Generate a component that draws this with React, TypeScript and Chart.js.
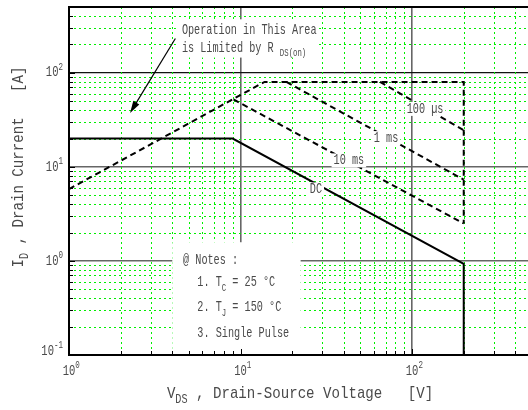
import React, { useEffect, useRef } from "react";
import { Chart, registerables } from "chart.js";

Chart.register(...registerables);

// ---- data (V in volts, I in amperes) ----
const dcV = [1, 9, 200, 200];
const dcI = [20, 20, 0.93, 0.1];
const rdsV = [1, 13.8, 200, 200];
const rdsI = [5.8, 80, 80, 2.5];
const us100V = [65, 200];
const us100I = [80, 24.5];
const ms1V = [18.5, 200];
const ms1I = [80, 7.3];
const ms10V = [9.1, 200];
const ms10I = [52, 2.5];

const xTickValues = [1, 2, 3, 4, 5, 6, 7, 8, 9, 10, 20, 30, 40, 50, 60, 70, 80, 90, 100, 200, 300, 400, 500];
const yTickValues = [0.1, 0.2, 0.3, 0.4, 0.5, 0.6, 0.7, 0.8, 0.9, 1, 2, 3, 4, 5, 6, 7, 8, 9, 10, 20, 30, 40, 50, 60, 70, 80, 90, 100, 200, 300, 400, 500];
const xMajorTicks = [1, 10, 100];
const yMajorTicks = [0.1, 1, 10, 100];

const seriesLabels = ["DC", "10 ms", "1 ms", "100 µs"];

const toPts = (xs: number[], ys: number[]) => xs.map((x, i) => ({ x, y: ys[i] }));

const isMajor = (v: number) => {
  const l = Math.log10(v);
  return Math.abs(l - Math.round(l)) < 1e-9;
};

const FONT = '"Liberation Mono", "DejaVu Sans Mono", monospace';
const TEXT = "#4a4a4a";
const GREEN = "#00f000";

type Part = { t: string; sub?: boolean; sup?: boolean };

function richWidth(ctx: CanvasRenderingContext2D, parts: Part[], size: number) {
  let w = 0;
  for (const p of parts) {
    ctx.font = `${p.sub || p.sup ? size * 0.72 : size}px ${FONT}`;
    w += ctx.measureText(p.t).width;
  }
  return w;
}

function drawRich(
  ctx: CanvasRenderingContext2D,
  x: number,
  y: number,
  parts: Part[],
  size: number,
  align: "left" | "center" | "right" = "left",
  sx = 0.8,
  rotate = 0
) {
  ctx.save();
  ctx.translate(x, y);
  if (rotate) ctx.rotate(rotate);
  ctx.scale(sx, 1);
  ctx.fillStyle = TEXT;
  ctx.textBaseline = "middle";
  ctx.textAlign = "left";
  const total = richWidth(ctx, parts, size);
  let cx = align === "left" ? 0 : align === "center" ? -total / 2 : -total;
  for (const p of parts) {
    ctx.font = `${p.sub || p.sup ? size * 0.72 : size}px ${FONT}`;
    const dy = p.sub ? size * 0.38 : p.sup ? -size * 0.38 : 0;
    ctx.fillText(p.t, cx, dy);
    cx += ctx.measureText(p.t).width;
  }
  ctx.restore();
  return total * sx;
}

const ANN = 15;
const ANN_SX = 0.68;

const decorPlugin = {
  id: "decor",
  beforeDatasetsDraw(chart: any) {
    const { ctx, chartArea, scales } = chart;
    const px = (v: number) => scales.x.getPixelForValue(v);
    const py = (v: number) => scales.y.getPixelForValue(v);

    // minor grid lines (green dotted), from the library's scales
    ctx.save();
    ctx.beginPath();
    ctx.rect(chartArea.left, chartArea.top, chartArea.right - chartArea.left, chartArea.bottom - chartArea.top);
    ctx.clip();
    ctx.strokeStyle = GREEN;
    ctx.lineWidth = 1;
    ctx.setLineDash([2, 3]);
    ctx.beginPath();
    for (const t of scales.x.ticks) {
      if (isMajor(t.value)) continue;
      const x = Math.round(px(t.value)) + 0.5;
      ctx.moveTo(x, chartArea.top);
      ctx.lineTo(x, chartArea.bottom);
    }
    for (const t of scales.y.ticks) {
      if (isMajor(t.value)) continue;
      const y = Math.round(py(t.value)) + 0.5;
      ctx.moveTo(chartArea.left, y);
      ctx.lineTo(chartArea.right, y);
    }
    ctx.stroke();
    ctx.restore();

    ctx.save();
    // notes box (white, covers grid)
    ctx.fillStyle = "#fff";
    const nx0 = px(4), nx1 = px(22.4), ny0 = py(1.58);
    ctx.fillRect(nx0, ny0, nx1 - nx0, chartArea.bottom - 1 - ny0);
    // annotation text box
    const ax0 = px(4.2), ax1 = px(28), ay0 = py(370), ay1 = py(145);
    ctx.fillRect(ax0, ay0, ax1 - ax0, ay1 - ay0);
    ctx.restore();

    // annotation text
    drawRich(ctx, px(4.55), py(288), [{ t: "Operation in This Area" }], ANN, "left", ANN_SX);
    drawRich(ctx, px(4.55), py(185), [{ t: "is Limited by R " }, { t: "DS(on)", sub: true }], ANN, "left", ANN_SX);

    // notes
    drawRich(ctx, px(4.62), py(1.02), [{ t: "@ Notes :" }], ANN, "left", ANN_SX);
    drawRich(ctx, px(5.6), py(0.593), [{ t: "1. T" }, { t: "C", sub: true }, { t: " = 25 °C" }], ANN, "left", ANN_SX);
    drawRich(ctx, px(5.6), py(0.32), [{ t: "2. T" }, { t: "J", sub: true }, { t: " = 150 °C" }], ANN, "left", ANN_SX);
    drawRich(ctx, px(5.6), py(0.173), [{ t: "3. Single Pulse" }], ANN, "left", ANN_SX);
  },
  afterDatasetsDraw(chart: any) {
    const { ctx, chartArea, scales } = chart;
    const px = (v: number) => scales.x.getPixelForValue(v);
    const py = (v: number) => scales.y.getPixelForValue(v);

    // series labels with white backgrounds
    const labelPos: [number, number][] = [
      [27.5, 5.75],
      [42.8, 11.7],
      [70.5, 20.2],
      [119, 41.3],
    ];
    seriesLabels.forEach((lab, i) => {
      const [vx, vy] = labelPos[i];
      const x = px(vx), y = py(vy);
      ctx.save();
      ctx.font = `${ANN}px ${FONT}`;
      const w = ctx.measureText(lab).width * ANN_SX;
      ctx.fillStyle = "#fff";
      ctx.fillRect(x - w / 2 - 2, y - 7, w + 4, 14);
      ctx.restore();
      drawRich(ctx, x, y, [{ t: lab }], ANN, "center", ANN_SX);
    });

    // arrow
    const x0 = px(4.17), y0 = py(231), x1 = px(2.27), y1 = py(37.4);
    const ang = Math.atan2(y1 - y0, x1 - x0);
    ctx.save();
    ctx.strokeStyle = "#000";
    ctx.fillStyle = "#000";
    ctx.lineWidth = 1.2;
    ctx.beginPath();
    ctx.moveTo(x0, y0);
    ctx.lineTo(x1 - 8 * Math.cos(ang), y1 - 8 * Math.sin(ang));
    ctx.stroke();
    ctx.beginPath();
    ctx.moveTo(x1, y1);
    ctx.lineTo(x1 - 12 * Math.cos(ang) + 3.5 * Math.sin(ang), y1 - 12 * Math.sin(ang) - 3.5 * Math.cos(ang));
    ctx.lineTo(x1 - 12 * Math.cos(ang) - 3.5 * Math.sin(ang), y1 - 12 * Math.sin(ang) + 3.5 * Math.cos(ang));
    ctx.closePath();
    ctx.fill();
    ctx.restore();

    // top border, 10^2 reference line + inner tick marks
    ctx.save();
    ctx.strokeStyle = "#000";
    ctx.lineWidth = 2;
    ctx.beginPath();
    ctx.moveTo(chartArea.left - 1, chartArea.top);
    ctx.lineTo(chartArea.right, chartArea.top);
    ctx.stroke();
    ctx.lineWidth = 1;
    ctx.beginPath();
    for (const t of scales.x.ticks) {
      const x = Math.round(px(t.value)) + 0.5;
      const len = isMajor(t.value) ? 6 : 4;
      ctx.moveTo(x, chartArea.bottom);
      ctx.lineTo(x, chartArea.bottom - len);
    }
    for (const t of scales.y.ticks) {
      const y = Math.round(py(t.value)) + 0.5;
      const len = isMajor(t.value) ? 6 : 4;
      ctx.moveTo(chartArea.left, y);
      ctx.lineTo(chartArea.left + len, y);
    }
    ctx.stroke();
    ctx.restore();

    // tick labels
    for (const v of xMajorTicks) {
      const e = Math.round(Math.log10(v));
      const x = px(v);
      ctx.save();
      ctx.font = `14px ${FONT}`;
      const w10 = ctx.measureText("10").width * 0.75;
      ctx.restore();
      drawRich(ctx, x - w10 / 2, chartArea.bottom + 16, [{ t: "10" }, { t: String(e), sup: true }], 14, "left", 0.75);
    }
    for (const v of yMajorTicks) {
      const e = Math.round(Math.log10(v));
      const y = v === 0.1 ? py(v) - 4 : py(v);
      drawRich(ctx, chartArea.left - 6, y, [{ t: "10" }, { t: e < 0 ? "-" + Math.abs(e) : String(e), sup: true }], 14, "right", 0.75);
    }

    // axis titles
    drawRich(
      ctx,
      300,
      393,
      [{ t: "V" }, { t: "DS", sub: true }, { t: " , Drain-Source Voltage   [V]" }],
      17,
      "center",
      0.83
    );
    drawRich(
      ctx,
      18,
      167,
      [{ t: "I" }, { t: "D", sub: true }, { t: " , Drain Current   [A]" }],
      17,
      "center",
      0.83,
      -Math.PI / 2
    );
  },
};

export default function App() {
  const ref = useRef<HTMLCanvasElement | null>(null);
  useEffect(() => {
    if (!ref.current) return;
    const gridColor = (c: any) => {
      if (!c.tick || !isMajor(c.tick.value)) return "rgba(0,0,0,0)";
      return c.scale.axis === "y" && c.tick.value === 100 ? "#111111" : "#666666";
    };
    const gridWidth = (c: any) => {
      if (!c.tick || !isMajor(c.tick.value)) return 0;
      return c.scale.axis === "y" && c.tick.value === 100 ? 1.2 : 1.6;
    };
    const line = (label: string, xs: number[], ys: number[], dashed: boolean) => ({
      label,
      data: toPts(xs, ys),
      showLine: true,
      borderColor: "#000",
      backgroundColor: "#000",
      borderWidth: 2,
      borderDash: dashed ? [6, 4] : [],
      pointRadius: 0,
      fill: false,
      tension: 0,
    });
    const chart = new Chart(ref.current, {
      type: "scatter",
      data: {
        datasets: [
          line("DC", dcV, dcI, false),
          line("RDS(on) limit", rdsV, rdsI, true),
          line("100 µs", us100V, us100I, true),
          line("1 ms", ms1V, ms1I, true),
          line("10 ms", ms10V, ms10I, true),
        ],
      },
      options: {
        animation: false,
        responsive: false,
        layout: { padding: { top: 7, left: 0, right: 0, bottom: 0 } },
        plugins: { legend: { display: false }, tooltip: { enabled: false } },
        scales: {
          x: {
            type: "logarithmic",
            min: 1,
            max: 500,
            afterBuildTicks: (s: any) => {
              s.ticks = xTickValues.map((v) => ({ value: v }));
            },
            afterFit: (s: any) => {
              s.height = 55;
            },
            ticks: { display: false },
            grid: { drawTicks: false, color: gridColor, lineWidth: gridWidth },
            border: { display: true, color: "#000", width: 2 },
          },
          y: {
            type: "logarithmic",
            min: 0.1,
            max: 500,
            afterBuildTicks: (s: any) => {
              s.ticks = yTickValues.map((v) => ({ value: v }));
            },
            afterFit: (s: any) => {
              s.width = 69;
            },
            ticks: { display: false },
            grid: { drawTicks: false, color: gridColor, lineWidth: gridWidth },
            border: { display: true, color: "#000", width: 2 },
          },
        },
      } as any,
      plugins: [decorPlugin],
    });
    return () => chart.destroy();
  }, []);
  return (
    <div style={{ position: "absolute", left: 0, top: 0, width: 528, height: 410, overflow: "hidden", background: "#fff" }}>
      <canvas ref={ref} width={532} height={410} style={{ display: "block" }} />
    </div>
  );
}
